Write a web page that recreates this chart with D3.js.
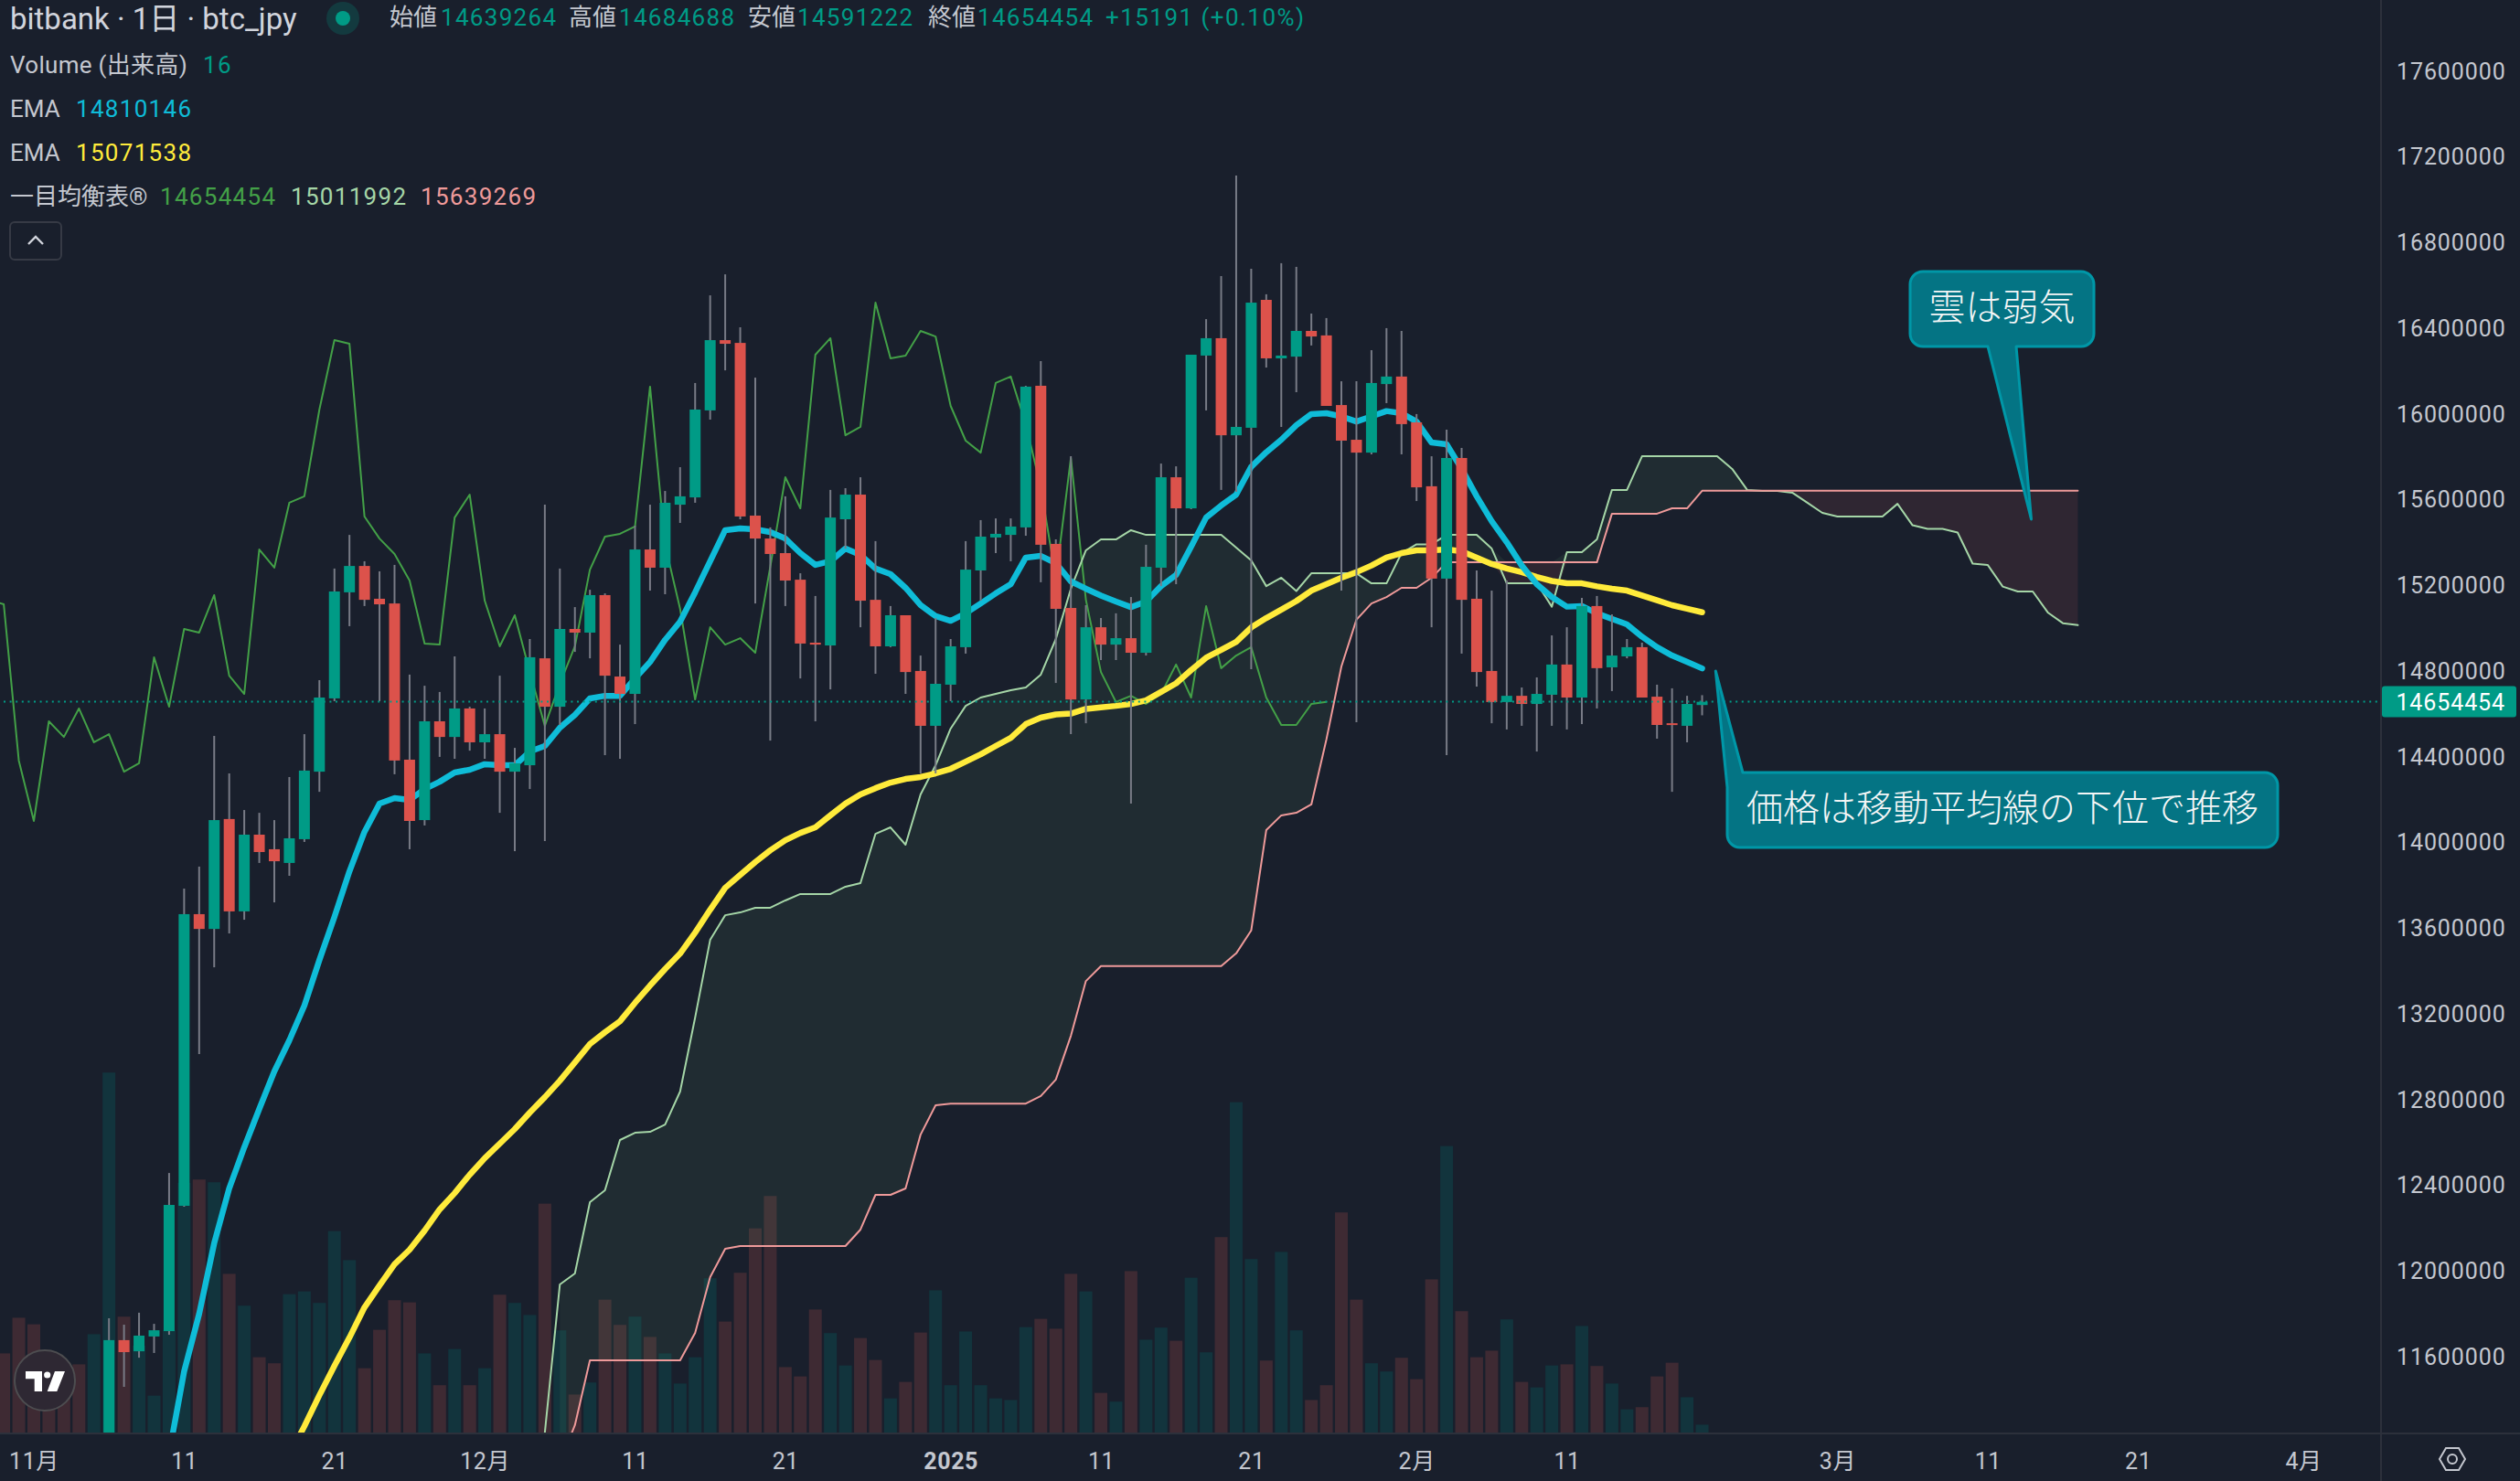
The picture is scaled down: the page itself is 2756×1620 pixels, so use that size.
<!DOCTYPE html>
<html>
<head>
<meta charset="utf-8">
<script src="https://cdn.jsdelivr.net/npm/d3@7"></script>
<style>
  html, body { margin: 0; background: #191f2c; }
  text { font-family: Roboto, "Noto Sans CJK JP", sans-serif; }
</style>
</head>
<body>
<svg id="chart"></svg>
<script>
// all prices below are thousand yen
// candles run from 2024-11-06 (day 5) to 2025-02-20 (day 111)
const candleOpen = [
  11100,11675,11623,11692,11717,12302,13663,13594,14107,13676,
  14034,13966,13902,14013,14328,14670,15165,15288,15135,15113,
  14384,14102,14563,14490,14623,14465,14503,14328,14358,14857,
  14631,14994,14977,15152,14772,14691,15365,15280,15574,15608,
  16014,16342,16329,15523,15416,15348,15224,14930,14917,15506,
  15621,15130,14913,15058,14798,14542,14734,14909,15267,15421,
  15433,15468,16129,15391,15092,14665,15002,14921,14951,14883,
  15280,15702,15557,16270,16351,15898,15933,16530,16257,16265,
  16385,16364,16039,15877,15817,16137,16172,15958,15660,15229,
  15792,15135,14798,14653,14682,14644,14687,14828,14674,15101,
  14815,14866,14909,14678,14554,14542,14639];
const candleHigh = [
  11777,11747,11803,11751,12455,13782,13885,14495,14320,14149,
  14136,14102,14303,14503,14755,15276,15433,15310,15263,15293,
  14781,14729,14700,14866,14631,14623,14776,14439,14947,15574,
  15276,15096,15177,15160,14921,15476,15574,15638,15749,16142,
  16551,16649,16402,16167,15468,15613,15254,15148,15643,15651,
  15702,15404,15101,15058,14870,15045,14947,15404,15502,15510,
  15510,16129,16244,15412,15800,15105,15045,15067,15143,15387,
  15766,15753,16274,16440,16641,17110,16675,16556,16701,16684,
  16466,16445,16150,16150,16295,16398,16385,15997,15800,15924,
  15839,15267,15173,15220,14721,14768,14964,15002,15139,15148,
  15062,14947,14930,14734,14717,14682,14685];
const candleLow = [
  11050,11457,11593,11615,11700,12297,13010,13415,13573,13637,
  13902,13718,13842,14000,14234,14657,15007,15101,14657,14316,
  13966,14077,14397,14388,14426,14388,14136,13957,14247,14004,
  14546,14887,14857,14405,14388,14550,15173,15156,15489,15583,
  15971,16201,15506,15113,14473,15101,14763,14563,14712,15369,
  15002,14785,14909,14691,14320,14320,14657,14879,15126,15348,
  15310,15429,15212,14742,14503,14554,14849,14849,14179,14870,
  15194,15203,15553,16014,15643,15634,14806,16214,15937,16099,
  16317,16035,15173,14559,15809,16048,15809,15591,15002,14405,
  14879,14725,14554,14525,14542,14422,14542,14525,14550,14623,
  14704,14857,14674,14482,14234,14465,14591];
const candleClose = [
  11675,11619,11696,11721,12306,13663,13594,14102,13676,14034,
  13953,13910,14017,14333,14674,15169,15288,15130,15109,14380,
  14098,14563,14490,14623,14465,14503,14328,14367,14862,14631,
  14994,14977,15152,14776,14691,15365,15280,15583,15613,16018,
  16342,16325,15519,15416,15344,15220,14926,14921,15514,15621,
  15126,14913,15058,14793,14542,14738,14913,15271,15425,15438,
  15472,16125,15387,15088,14665,15002,14921,14951,14883,15284,
  15702,15557,16274,16351,15898,15937,16517,16257,16270,16385,
  16359,16035,15873,15817,16142,16172,15950,15655,15229,15792,
  15130,14793,14653,14682,14644,14691,14828,14674,15101,14811,
  14870,14909,14674,14546,14546,14644,14654];

// volume from day -2, the first seven bars have no candle left on screen
const volume = [
  146,211,199,113,124,126,181,658,213,160,69,188,457,463,458,291,233,139,128,254,
  259,238,369,316,119,189,243,239,146,88,154,88,119,253,238,216,419,188,71,93,
  244,198,213,176,146,91,139,283,204,293,374,433,121,104,226,183,124,174,134,64,
  94,184,261,88,186,88,64,61,194,209,191,291,259,74,58,296,171,193,169,284,
  148,358,604,318,133,331,188,61,88,403,244,128,113,138,99,281,524,223,139,151,
  208,94,84,124,126,196,123,91,44,48,104,129,66,16];
const earlyVolumeUp = [false,false,false,false,false,false,true];

// 遅行スパン from day -3
const laggingSpan = [
  15130,15109,14380,14098,14563,14490,14623,14465,14503,14328,
  14367,14862,14631,14994,14977,15152,14776,14691,15365,15280,
  15583,15613,16018,16342,16325,15519,15416,15344,15220,14926,
  14921,15514,15621,15126,14913,15058,14793,14542,14738,14913,
  15271,15425,15438,15472,16125,15387,15088,14665,15002,14921,
  14951,14883,15284,15702,15557,16274,16351,15898,15937,16517,
  16257,16270,16385,16359,16035,15873,15817,16142,16172,15950,
  15655,15229,15792,15130,14793,14653,14682,14644,14691,14828,
  14674,15101,14811,14870,14909,14674,14546,14546,14644,14654];

// 先行スパン1 from day 33
const spanA = [
  10932,11243,11935,11986,12319,12374,12609,
  12643,12647,12681,12835,13181,13543,13658,13671,13693,13693,
  13727,13757,13757,13757,13791,13808,14038,14068,13987,14222,
  14358,14529,14635,14674,14691,14708,14721,14781,14947,15182,
  15361,15412,15412,15455,15433,15433,15433,15433,15433,15433,
  15374,15314,15194,15233,15171,15254,15254,15254,15254,15207,
  15207,15348,15389,15389,15433,15433,15433,15369,15207,15207,
  15207,15098,15352,15352,15412,15643,15643,15800,15800,15800,
  15800,15800,15800,15741,15643,15638,15638,15630,15583,15536,
  15519,15519,15519,15519,15578,15478,15461,15461,15444,15299,
  15293,15192,15169,15169,15071,15021,15012];

// 先行スパン2 from day 35
const spanB = [
  11103,11278,11581,11581,11581,
  11581,11581,11581,11581,11709,
  11969,12101,12114,12114,12114,
  12114,12114,12114,12114,12114,
  12191,12353,12353,12383,12634,
  12771,12779,12779,12779,12779,
  12779,12779,12814,12891,13095,
  13351,13421,13421,13421,13421,
  13421,13421,13421,13421,13421,13480,
  13587,14055,14124,14136,14175,
  14478,14819,15037,15113,15143,
  15186,15186,15233,15305,15305,
  15305,15305,15305,15305,15305,
  15305,15305,15305,15305,15532,
  15532,15532,15532,15557,15557,
  15639,15639,15639,15639,15639,15639,15639,15639,15639,15639,
  15639,15639,15639,15639,15639,15639,15639,15639,15639,15639,
  15639,15639,15639,15639,15639,15639];

// short EMA from day 9
const emaFast = [
  11145,11529,11798,12127,12383,12575,12754,12929,13074,13236,
  13449,13650,13863,14047,14179,14205,14196,14247,14281,14324,
  14337,14363,14358,14358,14422,14448,14533,14593,14670,14682,
  14682,14763,14840,14943,15028,15165,15310,15455,15463,15459,
  15446,15416,15348,15293,15310,15369,15340,15276,15250,15186,
  15105,15054,15032,15067,15113,15160,15203,15327,15335,15301,
  15216,15182,15150,15122,15096,15122,15194,15246,15378,15514,
  15570,15621,15751,15819,15877,15945,15997,16001,15986,15962,
  15986,16011,16001,15962,15864,15856,15741,15613,15497,15399,
  15290,15203,15143,15098,15101,15067,15041,15015,14958,14909,
  14870,14840,14810];

// long EMA from day 17
const emaSlow = [
  11137,11273,11418,11555,11687,11828,11930,12029,12097,12186,
  12285,12361,12447,12524,12592,12660,12737,12809,12886,12971,
  13057,13112,13163,13249,13330,13407,13479,13577,13684,13786,
  13846,13906,13961,14008,14042,14068,14124,14179,14222,14251,
  14277,14294,14303,14320,14341,14375,14409,14448,14486,14550,
  14580,14595,14599,14621,14628,14635,14644,14661,14700,14740,
  14802,14860,14896,14934,15001,15045,15084,15124,15173,15203,
  15233,15259,15290,15327,15348,15361,15361,15365,15357,15327,
  15297,15276,15259,15237,15218,15207,15207,15193,15182,15173,
  15150,15128,15105,15088,15072];

const priceTicks = [11600,12000,12400,12800,13200,13600,14000,14400,14800,15200,15600,16000,16400,16800,17200,17600];
const lastPrice = 14654454;

const timeTickDays = [0,10,20,30,40,50,61,71,81,92,102,120,130,140,151];
const timeTickLabels = ["11月","11","21","12月","11","21","2025","11","21","2月","11","3月","11","21","4月"];

const width = 2756, height = 1620;
const plotW = 2604, plotH = 1568;
const bg = "#191f2c";
const upColor = "#009b86", downColor = "#dc524b";
const textColor = "#c4c7cf";

const day0 = Date.UTC(2024, 10, 1);
const toDate = d => new Date(day0 + d * 864e5);
const yen = k => k * 1000;

const x = d3.scaleUtc().domain([toDate(0), toDate(151)]).range([37, 2519]);
const y = d3.scaleLinear().domain([11239400, 17929400]).range([plotH, 0]);
const vol = d3.scaleLinear().domain([0, 1000]).range([plotH, plotH - 600]);
const xd = d => x(toDate(d));

const candles = candleOpen.map((o, i) => ({
  day: i + 5, open: yen(o), high: yen(candleHigh[i]), low: yen(candleLow[i]), close: yen(candleClose[i])
}));
const isUp = c => c.close >= c.open;

const series = (values, firstDay) => values.map((v, i) => ({ day: i + firstDay, price: yen(v) }));
const priceLine = d3.line().x(d => xd(d.day)).y(d => y(d.price));

const svg = d3.select("#chart").attr("width", width).attr("height", height)
  .style("display", "block");
svg.append("rect").attr("width", width).attr("height", height).attr("fill", bg);
svg.append("clipPath").attr("id", "plot")
  .append("rect").attr("width", plotW).attr("height", plotH);

const plot = svg.append("g").attr("clip-path", "url(#plot)");

// volume
plot.append("g").selectAll("rect")
  .data(volume)
  .enter().append("rect")
    .attr("x", (d, i) => xd(i - 2) - 7)
    .attr("width", 14)
    .attr("y", d => vol(d))
    .attr("height", d => vol(0) - vol(d))
    .attr("fill", (d, i) => {
      const up = i < earlyVolumeUp.length ? earlyVolumeUp[i] : isUp(candles[i - earlyVolumeUp.length]);
      return up ? "#12343d" : "#3e2a33";
    });

// cloud, coloured by which span is on top
const cloud = spanB.map((b, i) => ({ day: i + 35, a: yen(spanA[i + 2]), b: yen(b) }));
plot.append("path").datum(cloud)
  .attr("fill", "rgba(110,205,130,0.08)")
  .attr("d", d3.area().x(d => xd(d.day)).y0(d => y(d.b)).y1(d => y(Math.max(d.a, d.b))));
plot.append("path").datum(cloud)
  .attr("fill", "rgba(244,110,110,0.1)")
  .attr("d", d3.area().x(d => xd(d.day)).y0(d => y(d.b)).y1(d => y(Math.min(d.a, d.b))));

const drawLine = (values, firstDay, color, w) => plot.append("path")
  .datum(series(values, firstDay))
  .attr("fill", "none")
  .attr("stroke", color)
  .attr("stroke-width", w)
  .attr("stroke-linejoin", "round")
  .attr("stroke-linecap", "round")
  .attr("d", priceLine);

drawLine(laggingSpan, -3, "#43a047", 2);
drawLine(spanA, 33, "#a5d6a7", 2);
drawLine(spanB, 35, "#ef9a9a", 2);
drawLine(emaSlow, 17, "#ffeb3b", 6.5);
drawLine(emaFast, 9, "#0fbcd8", 6.5);

// candles sit on top of the indicators
const candle = plot.append("g").selectAll("g")
  .data(candles)
  .enter().append("g");
candle.append("line")
  .attr("x1", d => xd(d.day)).attr("x2", d => xd(d.day))
  .attr("y1", d => y(d.high)).attr("y2", d => y(d.low))
  .attr("stroke", "#787b86")
  .attr("stroke-width", 2);
candle.append("rect")
  .attr("x", d => xd(d.day) - 6)
  .attr("width", 12)
  .attr("y", d => y(Math.max(d.open, d.close)))
  .attr("height", d => Math.max(2, Math.abs(y(d.open) - y(d.close))))
  .attr("fill", d => isUp(d) ? upColor : downColor);

// last price
plot.append("line")
  .attr("x1", 4).attr("x2", plotW)
  .attr("y1", y(lastPrice)).attr("y2", y(lastPrice))
  .attr("stroke", upColor)
  .attr("stroke-width", 2)
  .attr("stroke-dasharray", "2 4.6");

// axes
svg.append("line").attr("x1", plotW).attr("x2", plotW).attr("y1", 0).attr("y2", height)
  .attr("stroke", "#2c303b").attr("stroke-width", 2);
svg.append("line").attr("x1", 0).attr("x2", width).attr("y1", plotH).attr("y2", plotH)
  .attr("stroke", "#2c303b").attr("stroke-width", 2);

const yAxis = svg.append("g")
  .attr("transform", "translate(" + plotW + ",1)")
  .call(d3.axisRight(y).tickValues(priceTicks.map(yen)).tickFormat(d3.format("d")).tickSize(0).tickPadding(17));
yAxis.select(".domain").remove();
yAxis.selectAll("text")
  .attr("fill", textColor).attr("font-size", 25).attr("letter-spacing", 0.9)
  .style("font-family", "Roboto");

const xAxis = svg.append("g")
  .attr("transform", "translate(0," + plotH + ")")
  .call(d3.axisBottom(x).tickValues(timeTickDays.map(toDate))
    .tickFormat((d, i) => timeTickLabels[i]).tickSize(0).tickPadding(21));
xAxis.select(".domain").remove();
xAxis.selectAll("text")
  .attr("fill", textColor).attr("font-size", 25).attr("letter-spacing", 0.6)
  .style("font-family", "Roboto, 'Noto Sans CJK JP'")
  .attr("font-weight", (d, i) => timeTickLabels[i] === "2025" ? 700 : 400);

// last price tag
svg.append("rect")
  .attr("x", plotW + 1).attr("y", y(lastPrice) - 17)
  .attr("width", 147).attr("height", 34).attr("rx", 3)
  .attr("fill", upColor);
svg.append("text")
  .attr("x", 2740).attr("y", y(lastPrice)).attr("dy", "0.36em")
  .attr("text-anchor", "end").attr("font-size", 25).attr("letter-spacing", 0.9)
  .attr("fill", "#fff")
  .text(lastPrice);

// legend
const legendText = (tx, ty, str, color, size) => svg.append("text")
  .attr("x", tx).attr("y", ty).attr("font-size", size || 26)
  .attr("fill", color).text(str);

legendText(11, 32, "bitbank · 1日 · btc_jpy", "#d1d4dc", 33);
svg.append("circle").attr("cx", 375).attr("cy", 20).attr("r", 18).attr("fill", upColor).attr("opacity", 0.22);
svg.append("circle").attr("cx", 375).attr("cy", 20).attr("r", 8).attr("fill", upColor);

const ohlc = [
  ["始値", "14639264", 426, 482], ["高値", "14684688", 622, 677],
  ["安値", "14591222", 818, 872], ["終値", "14654454", 1015, 1069]
];
ohlc.forEach(r => {
  legendText(r[2], 28, r[0], textColor);
  legendText(r[3], 28, r[1], upColor).attr("letter-spacing", 1.3);
});
legendText(1209, 28, "+15191 (+0.10%)", upColor).attr("letter-spacing", 1.45);

legendText(11, 80, "Volume (出来高)", textColor).attr("letter-spacing", 0.3);
legendText(222, 80, "16", upColor).attr("letter-spacing", 1.3);
legendText(11, 128, "EMA", textColor);
legendText(83, 128, "14810146", "#0fbcd8").attr("letter-spacing", 1.3);
legendText(11, 176, "EMA", textColor);
legendText(83, 176, "15071538", "#ffeb3b").attr("letter-spacing", 1.3);
legendText(11, 224, "一目均衡表®", textColor);
legendText(175, 224, "14654454", "#43a047").attr("letter-spacing", 1.3);
legendText(318, 224, "15011992", "#a5d6a7").attr("letter-spacing", 1.3);
legendText(460, 224, "15639269", "#ef9a9a").attr("letter-spacing", 1.3);

svg.append("rect").attr("x", 11).attr("y", 243).attr("width", 56).attr("height", 41).attr("rx", 5)
  .attr("fill", "none").attr("stroke", "#363a45").attr("stroke-width", 2);
svg.append("path").attr("d", "M31 267L39 259L47 267").attr("fill", "none")
  .attr("stroke", "#d1d4dc").attr("stroke-width", 2.4);

// tradingview badge
svg.append("circle").attr("cx", 49).attr("cy", 1510).attr("r", 33)
  .attr("fill", "#2e2833").attr("stroke", "#4d4d50").attr("stroke-width", 2);
svg.append("path").attr("fill", "#fff")
  .attr("d", "M28 1500H46V1522H37.7V1508.3H28ZM60 1500H71L62.3 1522H51.7Z");
svg.append("circle").attr("cx", 51.7).attr("cy", 1504).attr("r", 3.6).attr("fill", "#fff");

// settings icon on the corner
svg.append("path").attr("fill", "none").attr("stroke", textColor).attr("stroke-width", 2)
  .attr("d", "M2675 1584H2689L2696 1596L2689 1608H2675L2668 1596Z");
svg.append("circle").attr("cx", 2682).attr("cy", 1596).attr("r", 5)
  .attr("fill", "none").attr("stroke", textColor).attr("stroke-width", 2);

// callouts, the tip is anchored on day and price
const calloutText = (x0, y0, x1, y1, label) => svg.append("text")
  .attr("x", (x0 + x1) / 2).attr("y", (y0 + y1) / 2 - 2).attr("dy", "0.36em")
  .attr("text-anchor", "middle").attr("font-size", 40)
  .attr("fill", "#f4f6f6")
  .style("font-family", "'Noto Sans CJK JP'").attr("font-weight", 300)
  .text(label);
const drawBox = path => svg.append("path").attr("d", path.toString())
  .attr("fill", "#047484").attr("stroke", "#0097a7").attr("stroke-width", 3)
  .attr("stroke-linejoin", "round");

// pointer leaves the bottom edge
const calloutBelow = (x0, y0, x1, y1, baseA, baseB, tipDay, tipPrice, label) => {
  const r = 14;
  const path = d3.path();
  path.moveTo(x0 + r, y0);
  path.lineTo(x1 - r, y0);
  path.arcTo(x1, y0, x1, y0 + r, r);
  path.lineTo(x1, y1 - r);
  path.arcTo(x1, y1, x1 - r, y1, r);
  path.lineTo(baseB, y1);
  path.lineTo(xd(tipDay), y(yen(tipPrice)));
  path.lineTo(baseA, y1);
  path.lineTo(x0 + r, y1);
  path.arcTo(x0, y1, x0, y1 - r, r);
  path.lineTo(x0, y0 + r);
  path.arcTo(x0, y0, x0 + r, y0, r);
  path.closePath();
  drawBox(path);
  calloutText(x0, y0, x1, y1, label);
};

// pointer replaces the top left corner
const calloutCorner = (x0, y0, x1, y1, cornerX, cornerY, tipDay, tipPrice, label) => {
  const r = 14;
  const path = d3.path();
  path.moveTo(cornerX, y0);
  path.lineTo(x1 - r, y0);
  path.arcTo(x1, y0, x1, y0 + r, r);
  path.lineTo(x1, y1 - r);
  path.arcTo(x1, y1, x1 - r, y1, r);
  path.lineTo(x0 + r, y1);
  path.arcTo(x0, y1, x0, y1 - r, r);
  path.lineTo(x0, cornerY);
  path.lineTo(xd(tipDay), y(yen(tipPrice)));
  path.closePath();
  drawBox(path);
  calloutText(x0, y0, x1, y1, label);
};

calloutBelow(2089, 297, 2290, 379, 2174, 2205, 132.9, 15506, "雲は弱気");
calloutCorner(1889, 845, 2491, 927, 1906, 861, 111.9, 14798, "価格は移動平均線の下位で推移");
</script>
</body>
</html>
